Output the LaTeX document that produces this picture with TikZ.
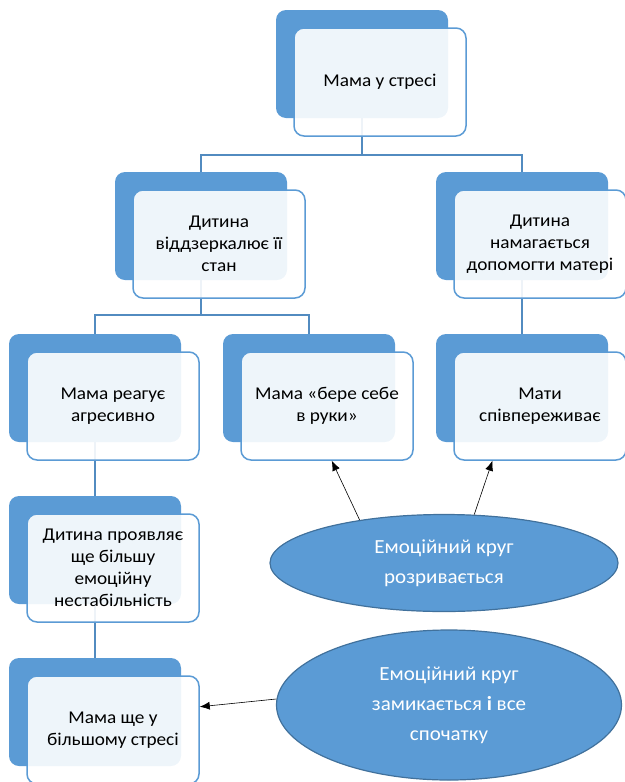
\documentclass[tikz,border=0pt]{standalone}
\usepackage{fontspec}
\setmainfont{Carlito}
\newfontfamily\boxfont[FakeStretch=1.07]{Carlito}
\newfontfamily\ovalfont[FakeStretch=1.05]{Carlito}
\usetikzlibrary{arrows.meta,positioning,shapes.geometric}
\definecolor{accblue}{HTML}{5B9BD5}
\definecolor{edgeblue}{HTML}{41719C}

\begin{document}
\begin{tikzpicture}[x=1pt, y=-1pt,
  back/.style={rounded corners=10pt, fill=accblue, minimum width=172pt, minimum height=108pt},
  front/.style={draw=accblue, line width=1.5pt, rounded corners=10pt, fill=white, fill opacity=0.9, text opacity=1, align=center, minimum width=172pt, minimum height=108pt, font=\boxfont\fontsize{18}{22}\selectfont},
  link/.style={draw=accblue!90!black, line width=1.5pt},
  oval/.style={ellipse, draw=edgeblue, line width=1.2pt, fill=accblue, text=white, align=center, inner sep=0pt, font=\ovalfont\fontsize{20}{30}\selectfont},
  arr/.style={-{Latex[length=10pt, width=8pt]}, line width=0.6pt}]
\useasboundingbox (0,0) rectangle (624,782);
\node[back] (b0) at (362,64) {};
\node[back] (b1) at (201,226) {};
\node[back] (b2) at (522,226) {};
\node[back] (b3) at (95,388) {};
\node[back] (b4) at (309,388) {};
\node[back] (b5) at (522,388) {};
\node[back] (b6) at (95,550) {};
\node[back] (b7) at (95,712) {};
\draw[link] (b0.south) -- ++(0,37) -| (b1.north);
\draw[link] (b0.south) -- ++(0,37) -| (b2.north);
\draw[link] (b1.south) -- ++(0,35) -| (b3.north);
\draw[link] (b1.south) -- ++(0,35) -| (b4.north);
\draw[link] (b2.south) -- (b5.north);
\draw[link] (b3.south) -- (b6.north);
\draw[link] (b6.south) -- (b7.north);
\node[front] (f0) at (380,82) {Мама у стресі};
\node[front] (f1) at (219,244) {Дитина\\віддзеркалює її\\стан};
\node[front] (f2) at (540,244) {Дитина\\намагається\\допомогти матері};
\node[front] (f3) at (113,406) {Мама реагує\\агресивно};
\node[front] (f4) at (327,406) {Мама «бере себе\\в руки»};
\node[front] (f5) at (540,406) {Мати\\співпереживає};
\node[front] (f6) at (113,568) {Дитина проявляє\\ще більшу\\емоційну\\нестабільність};
\node[front] (f7) at (113,730) {Мама ще у\\більшому стресі};
\node[oval, minimum width=348pt, minimum height=97pt] (e1) at (444,563) {Емоційний круг\\розривається};
\node[oval, minimum width=345pt, minimum height=150pt] (e2) at (449,705) {Емоційний круг\\замикається \textbf{і} все\\спочатку};
\draw[arr] (e1.153) -- (f4.-85);
\draw[arr] (e1.58) -- (f5.229);
\draw[arr] (e2.178) -- (f7.15);
\end{tikzpicture}
\end{document}
